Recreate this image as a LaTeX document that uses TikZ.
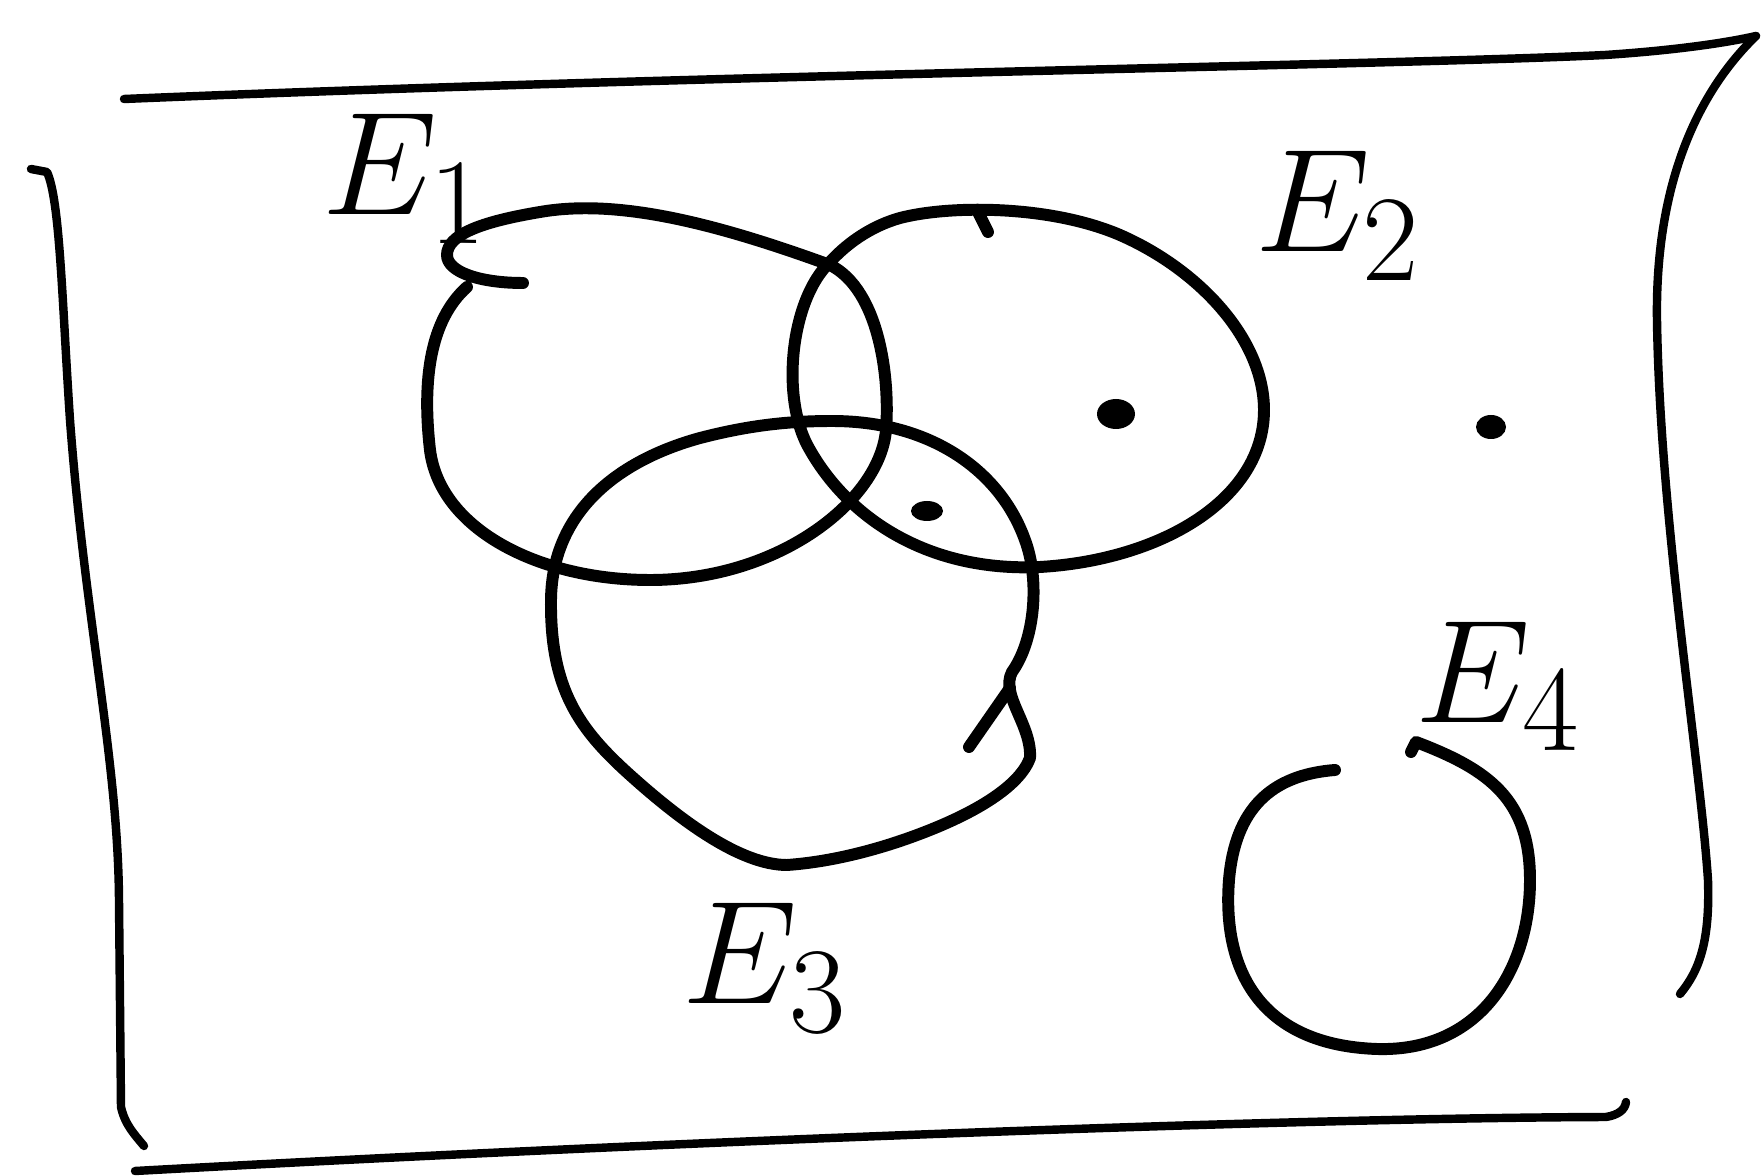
\documentclass[tikz,border=0pt]{standalone}
\usepackage{amsmath}
\usepackage{tikz}
\usetikzlibrary{calc,positioning}
\newcommand{\biglabel}[1]{\scalebox{1.68}{$#1$}}

\begin{document}
\begin{tikzpicture}[x=0.01cm, y=-0.01cm,
    hand/.style={line width=3.4pt, line cap=round, line join=round},
    frameline/.style={line width=2.4pt, line cap=round, line join=round},
    setlabel/.style={anchor=base west, inner sep=0pt, font=\Huge},
    pt/.style={fill=black}]
  \useasboundingbox (0,0) rectangle (1762,1176);
  % sample space frame
  \draw[frameline] (124,99) .. controls (700,75) and (1400,65) .. (1605,55) .. controls (1680,50) and (1730,42) .. (1756,36);
  \draw[frameline] (1756,36) .. controls (1700,90) and (1655,180) .. (1657,320) .. controls (1660,520) and (1700,760) .. (1708,880) .. controls (1710,940) and (1700,970) .. (1680,994);
  \draw[frameline] (31,169) -- (47,172) .. controls (60,200) and (62,300) .. (70,420) .. controls (85,620) and (118,760) .. (119,900) -- (121,1107) .. controls (125,1125) and (135,1135) .. (144,1146);
  \draw[frameline] (135,1171) .. controls (700,1140) and (1300,1118) .. (1606,1117) .. controls (1618,1115) and (1625,1110) .. (1626,1102);
  % E1
  \draw[hand] (523,283) .. controls (480,283) and (447,272) .. (447,255)
    .. controls (447,235) and (480,222) .. (540,212)
    .. controls (620,198) and (720,225) .. (830,265)
    .. controls (880,290) and (890,380) .. (886,430)
    .. controls (880,500) and (780,580) .. (650,580)
    .. controls (540,580) and (440,530) .. (430,450)
    .. controls (422,380) and (430,320) .. (467,287);
  % E2
  \draw[hand] (900,218) .. controls (950,205) and (1050,205) .. (1120,235)
    .. controls (1200,270) and (1264,340) .. (1264,410)
    .. controls (1264,500) and (1160,560) .. (1040,567)
    .. controls (930,572) and (850,520) .. (810,450)
    .. controls (780,400) and (790,300) .. (830,262)
    .. controls (850,240) and (875,225) .. cycle;
  \draw[hand] (978,212) -- (988,232);
  % E3
  \draw[hand] (832,421) .. controls (930,421) and (1000,470) .. (1025,540)
    .. controls (1040,580) and (1035,640) .. (1012,672)
    .. controls (1000,695) and (1032,725) .. (1030,758)
    .. controls (1020,785) and (980,810) .. (930,830)
    .. controls (880,850) and (830,862) .. (787,865)
    .. controls (740,865) and (680,820) .. (630,775)
    .. controls (580,730) and (550,690) .. (551,600)
    .. controls (552,510) and (620,460) .. (700,438)
    .. controls (750,425) and (790,421) .. cycle;
  \draw[hand] (1010,688) -- (969,747);
  % E4
  \draw[hand] (1335,770) .. controls (1270,775) and (1235,810) .. (1229,880)
    .. controls (1222,970) and (1260,1045) .. (1377,1049)
    .. controls (1480,1052) and (1530,970) .. (1530,880)
    .. controls (1530,800) and (1490,770) .. (1416,742) -- (1411,752);
  % outcomes
  \fill[pt] (1116,414) ellipse (19 and 15);
  \fill[pt] (1491,427) ellipse (15 and 12);
  \fill[pt] (927,511) ellipse (16 and 10);
  % labels
  \node[setlabel] (lab1) at (322,215) {\biglabel{E_1}};
  \node[setlabel] (lab2) at (1255,252) {\biglabel{E_2}};
  \node[setlabel] (lab3) at (682,1004) {\biglabel{E_3}};
  \node[setlabel] (lab4) at (1415,722) {\biglabel{E_4}};
\end{tikzpicture}
\end{document}
